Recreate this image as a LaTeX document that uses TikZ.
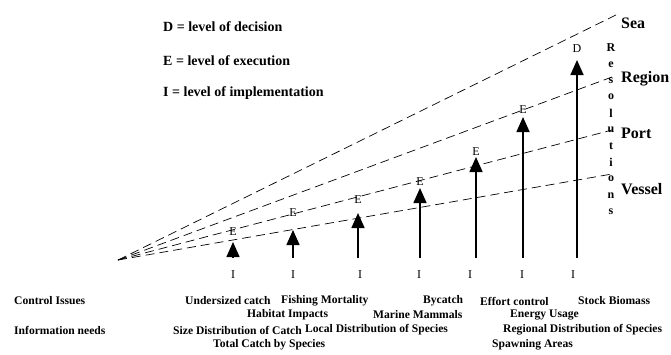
\documentclass[tikz,border=0pt]{standalone}
\usepackage{fontspec}
\setmainfont{Liberation Serif}
\usetikzlibrary{arrows.meta}
\begin{document}
\begin{tikzpicture}[x=1pt,y=-1pt,
  level/.style={draw,dash pattern=on 9pt off 5pt,line width=0.7pt},
  upar/.style={line width=1.6pt,-{Triangle[length=15pt,width=13pt]}},
  lbl/.style={inner sep=0pt,font=\fontsize{12}{12}\selectfont},
  txt/.style={inner sep=0pt,anchor=west,font=\fontsize{11.6}{12}\selectfont\bfseries},
  legend/.style={inner sep=0pt,anchor=west,font=\fontsize{14}{14}\selectfont\bfseries},
  levelname/.style={inner sep=0pt,anchor=west,font=\fontsize{16}{16}\selectfont\bfseries}]
\useasboundingbox (0,0) rectangle (671,354);
% legend
\node[legend] (lD) at (163,27) {D = level of decision};
\node[legend] (lE) at (163,61) {E = level of execution};
\node[legend] (lI) at (163,93) {I = level of implementation};
% fan of spatial levels
\coordinate (apex) at (118,260);
\coordinate (sea) at (620,13);
\coordinate (region) at (612,77);
\coordinate (port) at (612,130);
\coordinate (vessel) at (612,174);
\draw[level] (apex) -- (sea);
\draw[level] (apex) -- (region);
\draw[level] (apex) -- (port);
\draw[level] (apex) -- (vessel);
\node[levelname] (tSea) at (621,23) {Sea};
\node[levelname] (tRegion) at (621,79) {Region};
\node[levelname] (tPort) at (621,133) {Port};
\node[levelname] (tVessel) at (621,189) {Vessel};
% vertical caption
\foreach \c [count=\k from 0] in {R,e,s,o,l,u,t,i,o,n,s}
  \node[lbl,font=\fontsize{12}{12}\selectfont\bfseries] (res\k) at (611,48+16.4*\k) {\c};
% arrows from implementation up to execution / decision
\foreach \n/\x/\tip/\ix/\top/\ty in {1/233/242/233/E/232, 2/293/230/293/E/213, 3/358/213/360/E/200, 4/420/188/419/E/182, 5/476/157/470/E/152, 6/523/117/522/E/110, 7/577/60/573/D/49}{
  \coordinate (b\n) at (\x,258);
  \coordinate (t\n) at (\x,\tip);
  \draw[upar] (b\n) -- (t\n);
  \node[lbl] (top\n) at (\x,\ty) {\top};
  \node[lbl] (imp\n) at (\ix,275) {I};
}
% issue labels
\node[txt] (ci) at (14,301) {Control Issues};
\node[txt] (in) at (14,330) {Information needs};
\node[txt] (a1) at (185,301) {Undersized catch};
\node[txt] (a2) at (281,301) {Fishing Mortality};
\node[txt] (a3) at (423,301) {Bycatch};
\node[txt] (a4) at (480,301) {Effort control};
\node[txt] (a5) at (578,301) {Stock Biomass};
\node[txt] (b1) at (247,315) {Habitat Impacts};
\node[txt] (b2) at (373,315) {Marine Mammals};
\node[txt] (b3) at (510,315) {Energy Usage};
\node[txt] (c1) at (173,330) {Size Distribution of Catch};
\node[txt] (c2) at (305,330) {Local Distribution of Species};
\node[txt] (c3) at (503,330) {Regional Distribution of Species};
\node[txt] (d1) at (213,345) {Total Catch by Species};
\node[txt] (d2) at (492,345) {Spawning Areas};
\end{tikzpicture}
\end{document}
